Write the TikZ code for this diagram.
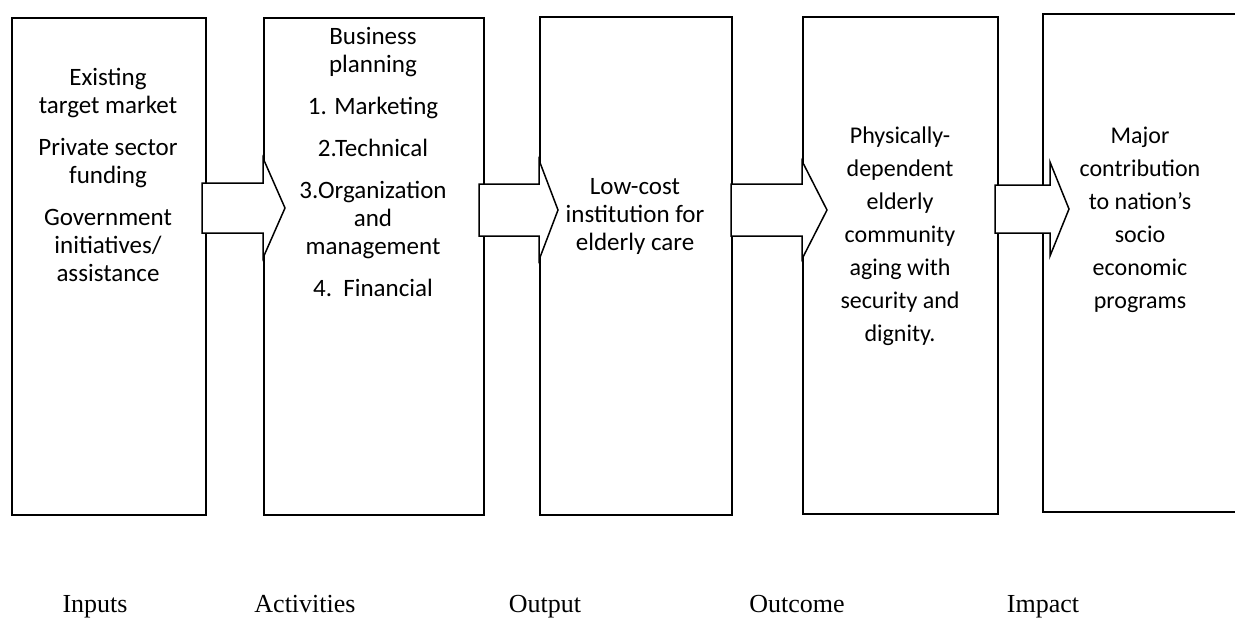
\documentclass[tikz,border=0pt]{standalone}
\usepackage{fontspec}
\setmainfont{Carlito}
\newfontfamily\serifface{Liberation Serif}
\begin{document}
\begin{tikzpicture}[x=1pt,y=-1pt,
  box/.style={draw, line width=1.5pt, fill=white, inner sep=0pt, anchor=north west},
  blockarrow/.style={draw, line width=1.5pt, fill=white, line join=miter},
  txt/.style={align=center, inner sep=0pt, font=\fontsize{25}{28}\selectfont},
  txtwide/.style={align=center, inner sep=0pt, font=\fontsize{24}{33}\selectfont},
  lbl/.style={anchor=base, inner sep=0pt, font=\serifface\fontsize{26}{30}\selectfont}]
\useasboundingbox (0,0) rectangle (1235,622);
\clip (0,0) rectangle (1235,622);
% boxes
\node[box, minimum width=194pt, minimum height=497pt] (b1) at (11,17) {};
\node[box, minimum width=220pt, minimum height=497pt] (b2) at (263,17) {};
\node[box, minimum width=192pt, minimum height=498pt] (b3) at (539,16) {};
\node[box, minimum width=195pt, minimum height=497pt] (b4) at (802,16) {};
\node[box, minimum width=210pt, minimum height=498pt] (b5) at (1042,13) {};
% block arrows
\draw[blockarrow] (202,183) -- (263,183) -- (263,158) -- (285,208) -- (263,258) -- (263,233) -- (202,233) -- cycle;
\draw[blockarrow] (479,184) -- (539,184) -- (539,160) -- (558,210) -- (539,260) -- (539,236) -- (479,236) -- cycle;
\draw[blockarrow] (731,184) -- (802,184) -- (802,161) -- (827,210) -- (802,259) -- (802,236) -- (731,236) -- cycle;
\draw[blockarrow] (995,185) -- (1050,185) -- (1050,162) -- (1069,209) -- (1050,256) -- (1050,233) -- (995,233) -- cycle;
% texts
\node[txt] (t1) at (108,175) {Existing\\target market\\[14pt]Private sector\\funding\\[14pt]Government\\initiatives/\\assistance};
\node[txt] (t2) at (373,162) {Business\\planning\\[14pt]1. Marketing\\[14pt]2.Technical\\[14pt]3.Organization\\and\\management\\[14pt]4.\ \ Financial};
\node[txt] (t3) at (635,216) {Low-cost\\institution for\\elderly care};
\node[txtwide] (t4) at (900,236) {Physically-\\dependent\\elderly\\community\\aging with\\security and\\dignity.};
\node[txtwide] (t5) at (1140,220) {Major\\contribution\\to nation’s\\socio\\economic\\programs};
% labels
\node[lbl] (l1) at (95,612) {Inputs};
\node[lbl] (l2) at (305,612) {Activities};
\node[lbl] (l3) at (545,612) {Output};
\node[lbl] (l4) at (797,612) {Outcome};
\node[lbl] (l5) at (1043,612) {Impact};
\end{tikzpicture}
\end{document}
